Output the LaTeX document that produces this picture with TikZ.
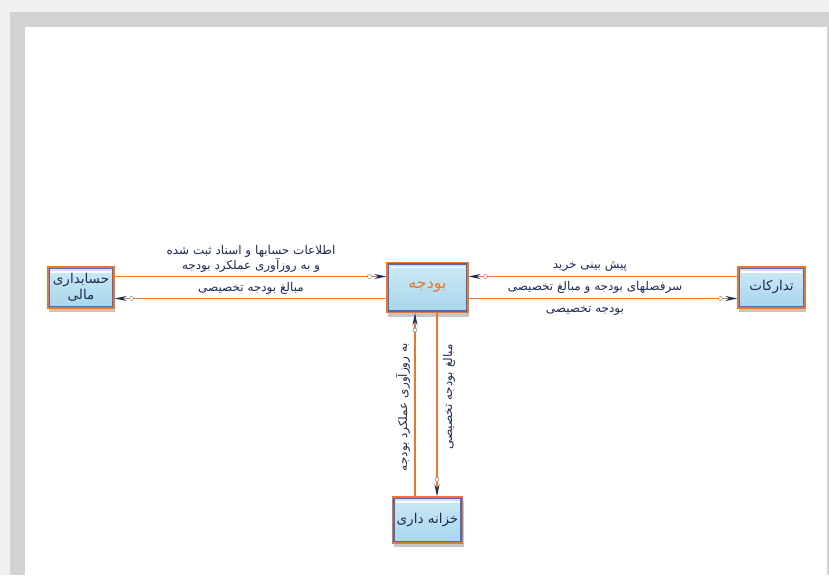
\documentclass[tikz,border=0pt]{standalone}
\usepackage{fontspec}
\usepackage{tikz}
\usetikzlibrary{positioning,arrows.meta,shadows,decorations.markings}
\TeXXeTstate=1
\newfontfamily\farsifont[Script=Arabic]{DejaVu Sans}
\newcommand{\fa}[1]{{\farsifont\beginR #1\endR}}
\definecolor{pageouter}{HTML}{F2F0EE}
\definecolor{pageframe}{HTML}{D3D1D2}
\definecolor{flowline}{HTML}{E8782F}
\definecolor{tipnavy}{HTML}{1C2A5C}
\definecolor{boxtext}{HTML}{1F2A55}
\definecolor{boxtop}{HTML}{CDEAF6}
\definecolor{boxbottom}{HTML}{A6D6EB}
\definecolor{boxframe}{HTML}{5666B0}
\definecolor{budgettext}{HTML}{E8782F}

\begin{document}
\begin{tikzpicture}[x=1pt,y=-1pt,
    unitbox/.style={rectangle, draw=flowline, line width=1.2pt, top color=boxtop, bottom color=boxbottom,
      text=boxtext, font=\fontsize{13.5}{16}\selectfont, align=center, inner sep=0pt,
      drop shadow={shadow xshift=1pt, shadow yshift=-4pt, opacity=0.45, fill=gray},
      path picture={
        \draw[boxframe, line width=4.5pt] (path picture bounding box.south west) rectangle (path picture bounding box.north east);
        \draw[white, line width=1.3pt] ([xshift=3pt,yshift=-5pt]path picture bounding box.north west) -- ([xshift=-3pt,yshift=-5pt]path picture bounding box.north east);
      }},
    flow/.style={draw=flowline, line width=1.5pt, -{Stealth[length=12pt, width=5pt, color=tipnavy]},
      postaction={decorate, decoration={markings, mark=at position -17pt with {\draw[gray, fill=white, line width=0.5pt] (0,0) circle (2pt);}}}},
    flowlabel/.style={text=boxtext, font=\fontsize{12}{14.5}\selectfont, align=center, inner sep=1pt}]

        % page background and frame
        \useasboundingbox (0,0) rectangle (829,575);
        \fill[pageouter] (0,0) rectangle (829,575);
        \fill[pageframe] (10,12) rectangle (829,575);
        \fill[white] (25,27) rectangle (827,575);

        % units
        \node[unitbox, minimum width=66pt, minimum height=41pt] (hesab) at (81,287.5) {\fa{حسابداری}\\\fa{مالی}};
        \node[unitbox, minimum width=81pt, minimum height=50pt, text=budgettext, font=\fontsize{16}{18}\selectfont] (budget) at (427.5,287.5) {\fa{بودجه}};
        \node[unitbox, minimum width=67pt, minimum height=41pt] (tadarokat) at (771.5,287.5) {\fa{تدارکات}};
        \node[unitbox, minimum width=70pt, minimum height=46pt] (khazane) at (427.5,520) {\fa{خزانه داری}};

        % flows between budget and accounting
        \draw[flow] ([yshift=11pt]hesab.east) -- ([yshift=11pt]budget.west);
        \draw[flow] ([yshift=-11pt]budget.west) -- ([yshift=-11pt]hesab.east);
        \node[flowlabel] (hesabin) at (251,259) {\fa{اطلاعات حسابها و اسناد ثبت شده}\\\fa{و به روزآوری عملکرد بودجه}};
        \node[flowlabel] (hesabout) at (251,288) {\fa{مبالغ بودجه تخصیصی}};

        % flows between budget and procurement
        \draw[flow] ([yshift=11pt]tadarokat.west) -- ([yshift=11pt]budget.east);
        \draw[flow] ([yshift=-11pt]budget.east) -- ([yshift=-11pt]tadarokat.west);
        \node[flowlabel] (tadin) at (590,266) {\fa{پیش بینی خرید}};
        \node[flowlabel] (tadmid) at (595,287.5) {\fa{سرفصلهای بودجه و مبالغ تخصیصی}};
        \node[flowlabel] (tadout) at (585,311) {\fa{بودجه تخصیصی}};

        % flows between budget and treasury
        \draw[flow] ([xshift=-12.5pt]khazane.north) -- ([xshift=-12.5pt]budget.south);
        \draw[flow] ([xshift=9.5pt]budget.south) -- ([xshift=9.5pt]khazane.north);
        \node[flowlabel, rotate=90] (khazin) at (403,407) {\fa{به روزآوری عملکرد بودجه}};
        \node[flowlabel, rotate=90] (khazout) at (449,397) {\fa{مبالغ بودجه تخصیصی}};
      \end{tikzpicture}
\end{document}
